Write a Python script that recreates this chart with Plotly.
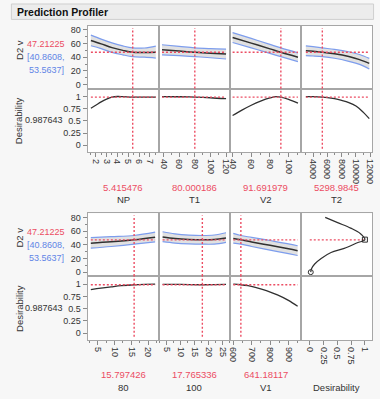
import plotly.graph_objects as go

W, H = 380, 399

# ---------------- values ----------------
title_text = "Prediction Profiler"
response_name = "D2 v"
desir_name = "Desirability"
pred_value = 47.21225
pred_text = "47.21225"
ci_lines = ["[40.8608,", "53.5637]"]
desir_value = 0.987643
desir_text = "0.987643"

# ---- upper profiler ----
np_x = [1.55, 2.5, 3.5, 4.5, 5.415476, 6.5, 7.55]
np_mean = [64.5, 59.5, 54.0, 50.0, 47.2, 46.9, 47.3]
np_upper = [72.3, 66.5, 61.0, 56.5, 53.56, 53.5, 56.3]
np_lower = [56.7, 52.5, 47.0, 43.5, 40.86, 40.0, 38.8]
np_dx = [1.55, 2.0, 2.5, 3.0, 3.5, 4.0, 4.5, 5.415476, 6.5, 7.55]
np_d = [0.76, 0.82, 0.89, 0.945, 0.985, 1.0, 0.997, 0.9876, 0.986, 0.988]

t1_x = [38, 60, 80.000186, 100, 120]
t1_mean = [50.9, 49.0, 47.2, 45.8, 44.6]
t1_upper = [58.2, 55.8, 53.56, 52.5, 51.9]
t1_lower = [43.4, 42.2, 40.86, 39.2, 37.4]
t1_dx = [38, 60, 80.000186, 100, 120]
t1_d = [0.998, 0.995, 0.9876, 0.975, 0.955]

v2_x = [40, 60, 80, 91.691979, 110]
v2_mean = [68.8, 60.6, 52.2, 47.2, 40.0]
v2_upper = [76.0, 67.5, 58.7, 53.56, 46.3]
v2_lower = [61.5, 53.7, 45.6, 40.86, 33.6]
v2_dx = [40, 50, 60, 70, 80, 87, 91.691979, 100, 110]
v2_d = [0.61, 0.72, 0.82, 0.905, 0.97, 0.998, 0.9876, 0.94, 0.863]

t2_x = [3000, 4000, 5298.9845, 7000, 9000, 10500, 11860]
t2_mean = [49.5, 48.6, 47.2, 45.0, 41.0, 36.5, 31.0]
t2_upper = [56.7, 55.4, 53.56, 51.5, 48.0, 44.0, 38.3]
t2_lower = [42.3, 41.8, 40.86, 38.5, 34.0, 29.5, 22.8]
t2_dx = [3000, 4000, 5298.9845, 6000, 7000, 8000, 9000, 10000, 11000, 11860]
t2_d = [0.998, 0.997, 0.9876, 0.978, 0.955, 0.92, 0.875, 0.805, 0.68, 0.545]

# ---- lower profiler ----
f80_x = [3, 9, 15.797426, 22]
f80_mean = [42.3, 44.3, 47.2, 51.0]
f80_upper = [50.3, 51.8, 53.56, 58.4]
f80_lower = [35.0, 37.5, 40.86, 44.2]
f80_dx = [3, 6, 9, 12, 15.797426, 19, 22]
f80_d = [0.89, 0.92, 0.945, 0.968, 0.9876, 0.996, 1.0]

f100_x = [3.6, 8, 13, 17.765336, 22, 26.2]
f100_mean = [51.3, 49.2, 47.8, 47.2, 47.6, 49.8]
f100_upper = [59.0, 56.0, 54.2, 53.56, 54.3, 57.6]
f100_lower = [44.5, 42.5, 41.3, 40.86, 41.0, 43.5]
f100_dx = [3.6, 10, 17.765336, 22, 26.2]
f100_d = [0.995, 0.993, 0.9876, 0.99, 0.995]

v1_x = [600, 641.18117, 700, 800, 900, 950]
v1_mean = [49.0, 47.2, 44.2, 39.2, 34.2, 31.4]
v1_upper = [56.6, 53.56, 50.8, 46.2, 41.4, 38.6]
v1_lower = [42.5, 40.86, 37.5, 32.2, 27.0, 24.3]
v1_dx = [600, 641.18117, 680, 720, 780, 840, 900, 950]
v1_d = [0.998, 0.9876, 0.968, 0.935, 0.87, 0.78, 0.67, 0.55]

# desirability function (desirability vs D2 v)
dfun_v = [0, 4.7, 11.9, 20, 28.6, 34.7, 42.9, 47.5, 56.1, 64.3, 72.3, 80]
dfun_d = [0.018, 0.029, 0.089, 0.207, 0.386, 0.625, 0.862, 1.0, 0.92, 0.743, 0.505, 0.28]
dfun_handles_v = [0, 47.5]
dfun_handles_d = [0.018, 1.0]

# tick labels
d2_ticks = [0, 20, 40, 60, 80]
d2_ticktext = ["0", "20", "40", "60", "80"]
des_ticks = [0, 0.25, 0.5, 0.75, 1]
des_ticktext = ["0", "0.25", "0.5", "0.75", "1"]
np_ticks = [2, 3, 4, 5, 6, 7]
t1_ticks = [40, 60, 80, 100, 120]
v2_ticks = [40, 60, 80, 100]
t2_ticks = [4000, 6000, 8000, 10000, 12000]
f80_ticks = [5, 10, 15, 20]
f100_ticks = [5, 10, 15, 20, 25]
v1_ticks = [600, 700, 800, 900]

top_names = ["NP", "T1", "V2", "T2"]
top_current = [5.415476, 80.000186, 91.691979, 5298.9845]
top_current_text = ["5.415476", "80.000186", "91.691979", "5298.9845"]
bot_names = ["80", "100", "V1"]
bot_current = [15.797426, 17.765336, 641.18117]
bot_current_text = ["15.797426", "17.765336", "641.18117"]

# ---------------- styling / layout ----------------
RED = "#ec4d63"
BLUE = "#5f85e6"
BAND_LINE = "#7d9ded"
BAND_FILL = "rgba(195,195,195,0.5)"
MEAN = "#303030"
FRAME = "#a6a6a6"
TXT = "#333333"
FONT = "Segoe UI, Liberation Sans, Arial, sans-serif"

col_px = [(86, 158), (158, 231), (231, 303), (303, 375)]
blocks_px = [((25, 88), (88, 152)), ((213.5, 276.5), (276.5, 341))]
D2_RANGE = [-5.8, 85.8]
DES_RANGE = [-0.143, 1.163]


def px(x):
    return x / W


def py(y):
    return 1 - y / H


top_factors = [
    dict(x=np_x, m=np_mean, hi=np_upper, lo=np_lower, dx=np_dx, d=np_d, rng=[1.25, 7.8],
         tv=np_ticks, minor=0.5),
    dict(x=t1_x, m=t1_mean, hi=t1_upper, lo=t1_lower, dx=t1_dx, d=t1_d, rng=[33.5, 125.5],
         tv=t1_ticks, minor=10),
    dict(x=v2_x, m=v2_mean, hi=v2_upper, lo=v2_lower, dx=v2_dx, d=v2_d, rng=[37.6, 113.5],
         tv=v2_ticks, minor=10),
    dict(x=t2_x, m=t2_mean, hi=t2_upper, lo=t2_lower, dx=t2_dx, d=t2_d, rng=[2350, 12250],
         tv=t2_ticks, minor=1000),
]
bot_factors = [
    dict(x=f80_x, m=f80_mean, hi=f80_upper, lo=f80_lower, dx=f80_dx, d=f80_d, rng=[2.06, 23.0],
         tv=f80_ticks, minor=2.5),
    dict(x=f100_x, m=f100_mean, hi=f100_upper, lo=f100_lower, dx=f100_dx, d=f100_d,
         rng=[2.14, 27.75], tv=f100_ticks, minor=2.5),
    dict(x=v1_x, m=v1_mean, hi=v1_upper, lo=v1_lower, dx=v1_dx, d=v1_d, rng=[584, 969.5],
         tv=v1_ticks, minor=50),
]
for f, c in zip(top_factors, top_current):
    f["cur"] = c
for f, c in zip(bot_factors, bot_current):
    f["cur"] = c

fig = go.Figure()
layout = dict(
    width=W, height=H, margin=dict(l=0, r=0, t=0, b=0),
    paper_bgcolor="#f7f7f7", plot_bgcolor="white", showlegend=False,
    font=dict(family=FONT, size=9, color=TXT),
)
shapes = []
annotations = []


def axis_names(n):
    return ("x" if n == 1 else f"x{n}", "y" if n == 1 else f"y{n}",
            "xaxis" if n == 1 else f"xaxis{n}", "yaxis" if n == 1 else f"yaxis{n}")


def setup_axes(n, ci, rowpx, xrange, yrange, show_x, show_y, xticks, xtext, xminor,
               yticks, ytext, yminor):
    xr, yr, xk, yk = axis_names(n)
    base = dict(showgrid=False, zeroline=False, showline=True, mirror=True,
                linecolor=FRAME, linewidth=1, fixedrange=True)
    xa = dict(base, domain=[px(col_px[ci][0]), px(col_px[ci][1])], range=xrange, anchor=yr)
    if show_x:
        xa.update(tickmode="array", tickvals=xticks, ticktext=xtext, ticks="outside",
                  ticklen=4, tickcolor="#8a8a8a", tickangle=90,
                  tickfont=dict(size=9, color=TXT))
        if xminor:
            xa["minor"] = dict(tickmode="linear", tick0=0, dtick=xminor, ticks="outside",
                               ticklen=2, tickcolor="#8a8a8a")
    else:
        xa.update(showticklabels=False, ticks="")
    ya = dict(base, domain=[py(rowpx[1]), py(rowpx[0])], range=yrange, anchor=xr)
    if show_y:
        ya.update(tickmode="array", tickvals=yticks, ticktext=ytext, ticks="outside",
                  ticklen=4, tickcolor="#8a8a8a", tickfont=dict(size=9, color=TXT))
        if yminor:
            ya["minor"] = dict(tickmode="linear", tick0=0, dtick=yminor, ticks="outside",
                               ticklen=2, tickcolor="#8a8a8a")
    else:
        ya.update(showticklabels=False, ticks="")
    layout[xk] = xa
    layout[yk] = ya
    return xr, yr


def red_hline(xr, yr, xs, yv):
    fig.add_trace(go.Scatter(x=[xs[0], xs[-1]], y=[yv, yv], xaxis=xr, yaxis=yr, mode="lines",
                             line=dict(color=RED, width=1.4, dash="2px,2px"),
                             hoverinfo="skip"))


def red_vline(xr, yr, xv, y0, y1):
    shapes.append(dict(type="line", xref=xr, yref=f"{yr} domain", x0=xv, x1=xv, y0=y0, y1=y1,
                       line=dict(color=RED, width=1.4, dash="2px,2px"), layer="above"))


n = 0
for b, factors in enumerate([top_factors, bot_factors]):
    (d2px, despx) = blocks_px[b]
    for ci, f in enumerate(factors):
        # D2 v row
        n += 1
        xr, yr = setup_axes(n, ci, d2px, f["rng"], D2_RANGE, False, ci == 0,
                            None, None, None, d2_ticks, d2_ticktext, 10)
        fig.add_trace(go.Scatter(x=f["x"], y=f["lo"], xaxis=xr, yaxis=yr, mode="lines",
                                 line=dict(color=BAND_LINE, width=1.2, shape="spline"),
                                 hoverinfo="skip"))
        fig.add_trace(go.Scatter(x=f["x"], y=f["hi"], xaxis=xr, yaxis=yr, mode="lines",
                                 fill="tonexty", fillcolor=BAND_FILL,
                                 line=dict(color=BAND_LINE, width=1.2, shape="spline"),
                                 hoverinfo="skip"))
        fig.add_trace(go.Scatter(x=f["x"], y=f["m"], xaxis=xr, yaxis=yr, mode="lines",
                                 line=dict(color=MEAN, width=1.5, shape="spline"),
                                 hoverinfo="skip"))
        red_hline(xr, yr, f["x"], pred_value)
        red_vline(xr, yr, f["cur"], 0, 0.965)
        # Desirability row
        n += 1
        xr2, yr2 = setup_axes(n, ci, despx, f["rng"], DES_RANGE, True, ci == 0,
                              f["tv"], [str(v) for v in f["tv"]], f["minor"],
                              des_ticks, des_ticktext, None)
        fig.add_trace(go.Scatter(x=f["dx"], y=f["d"], xaxis=xr2, yaxis=yr2, mode="lines",
                                 line=dict(color=MEAN, width=1.3, shape="spline"),
                                 hoverinfo="skip"))
        red_hline(xr2, yr2, f["dx"], desir_value)
        red_vline(xr2, yr2, f["cur"], 0.055, 1)

# desirability function panel (lower block, 4th column)
n += 1
xr, yr = setup_axes(n, 3, blocks_px[1][0], [-0.155, 1.13], D2_RANGE, False, False,
                    None, None, None, None, None, None)
fig.add_trace(go.Scatter(x=[0, 1], y=[pred_value, pred_value], xaxis=xr, yaxis=yr, mode="lines",
                         line=dict(color=RED, width=1.4, dash="2px,2px"), hoverinfo="skip"))
fig.add_trace(go.Scatter(x=dfun_d, y=dfun_v, xaxis=xr, yaxis=yr, mode="lines",
                         line=dict(color=MEAN, width=1.2, shape="spline"), hoverinfo="skip"))
fig.add_trace(go.Scatter(x=dfun_handles_d, y=dfun_handles_v, xaxis=xr, yaxis=yr, mode="markers",
                         marker=dict(symbol=["circle-open", "square-open"], size=5,
                                     color=MEAN, line=dict(width=1, color=MEAN)),
                         hoverinfo="skip"))
n += 1
setup_axes(n, 3, blocks_px[1][1], [-0.155, 1.13], DES_RANGE, True, False,
           des_ticks, des_ticktext, None, None, None, None)
# invisible anchor trace so the empty panel is drawn
xr, yr, _, _ = axis_names(n)
fig.add_trace(go.Scatter(x=[None], y=[None], xaxis=xr, yaxis=yr, mode="markers",
                         hoverinfo="skip"))

# ---------------- title bar ----------------
shapes.insert(0, dict(type="rect", xref="paper", yref="paper", x0=px(8.5), x1=px(376.5),
                      y0=py(18.5), y1=py(3), fillcolor="#ececec",
                      line=dict(color="#cfcfcf", width=1), layer="below"))
annotations.append(dict(text="<b>" + title_text + "</b>", x=px(12), y=py(11), xref="paper",
                        yref="paper", xanchor="left", yanchor="middle", showarrow=False,
                        font=dict(size=10.5, color="#111")))


def ann(text, x, y, color=TXT, size=9, angle=0, xanchor="center"):
    annotations.append(dict(text=text, x=px(x), y=py(y), xref="paper", yref="paper",
                            xanchor=xanchor, yanchor="middle", showarrow=False,
                            textangle=angle, font=dict(size=size, color=color)))


for b in range(2):
    (d2px, despx) = blocks_px[b]
    c2 = (d2px[0] + d2px[1]) / 2
    cd = (despx[0] + despx[1]) / 2
    ann(response_name, 17, c2 - 7, angle=-90, size=9.5)
    ann(pred_text, 44, c2 - 13, color=RED, size=9)
    ann(ci_lines[0], 44, c2, color=BLUE, size=9)
    ann(ci_lines[1], 44, c2 + 13, color=BLUE, size=9)
    ann(desir_name, 16, cd, angle=-90, size=9.5)
    ann(desir_text, 42, cd, size=9)

for ci in range(4):
    cx = (col_px[ci][0] + col_px[ci][1]) / 2
    ann(top_current_text[ci], cx, 187, color=RED, size=9.5)
    ann(top_names[ci], cx, 199, size=9.5)
for ci in range(3):
    cx = (col_px[ci][0] + col_px[ci][1]) / 2
    ann(bot_current_text[ci], cx, 375, color=RED, size=9.5)
    ann(bot_names[ci], cx, 388, size=9.5)
ann(desir_name, (col_px[3][0] + col_px[3][1]) / 2, 388, size=9.5)

layout["shapes"] = shapes
layout["annotations"] = annotations
fig.update_layout(**layout)
fig.write_html("out.html",
               config={"displayModeBar": False, "staticPlot": True},
               post_script="document.body.style.margin='0px';"
                           "document.body.style.overflow='hidden';"
                           "document.body.style.background='#f7f7f7';")
